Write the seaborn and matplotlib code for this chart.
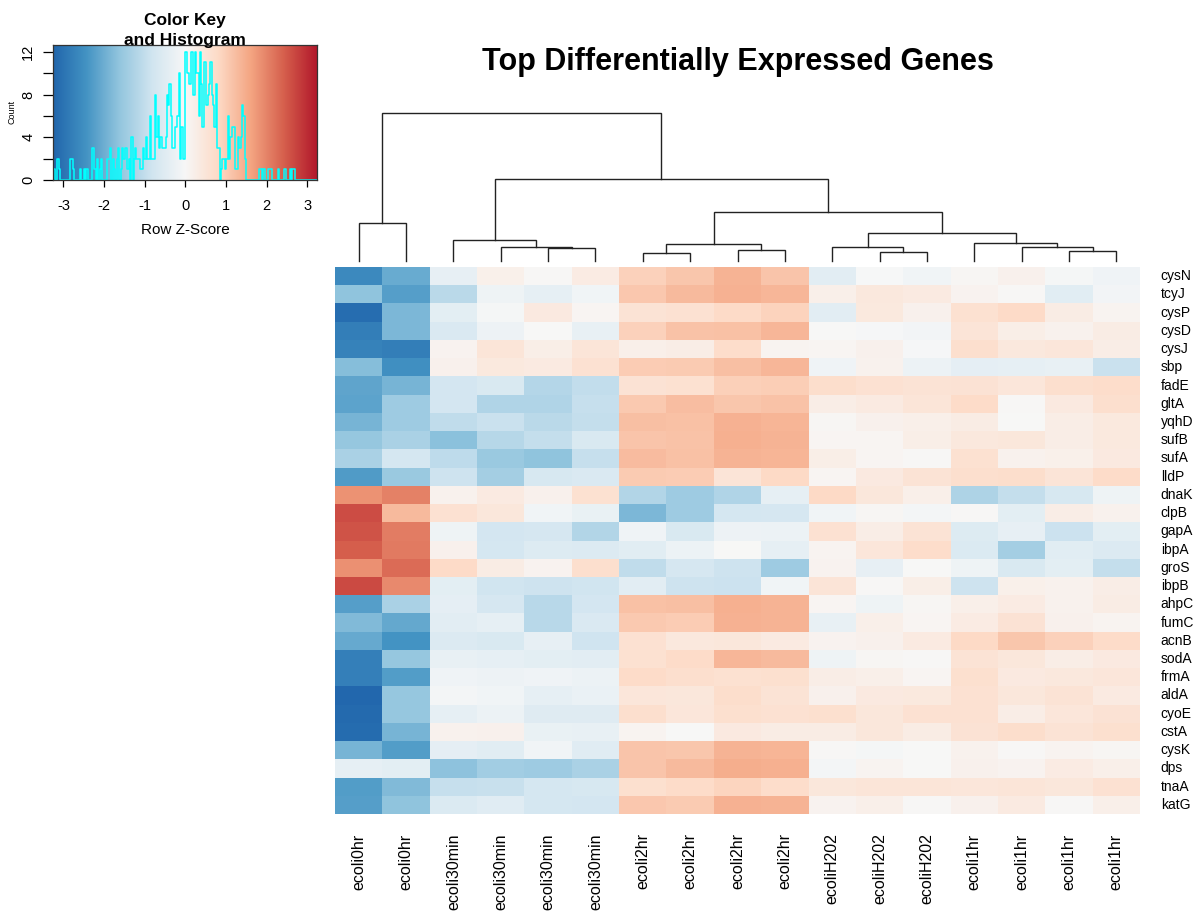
import numpy as np
import pandas as pd
import matplotlib
matplotlib.use("Agg")
import matplotlib.pyplot as plt
from matplotlib.colors import LinearSegmentedColormap
import seaborn as sns

plt.rcParams["font.family"] = ["Liberation Sans", "DejaVu Sans"]

# ---------------------------------------------------------------- data
genes = ["cysN", "tcyJ", "cysP", "cysD", "cysJ", "sbp", "fadE", "gltA", "yqhD",
         "sufB", "sufA", "lldP", "dnaK", "clpB", "gapA", "ibpA", "groS", "ibpB",
         "ahpC", "fumC", "acnB", "sodA", "frmA", "aldA", "cyoE", "cstA", "cysK",
         "dps", "tnaA", "katG"]

samples = ["ecoli0hr", "ecoli0hr",
           "ecoli30min", "ecoli30min", "ecoli30min", "ecoli30min",
           "ecoli2hr", "ecoli2hr", "ecoli2hr", "ecoli2hr",
           "ecoliH202", "ecoliH202", "ecoliH202",
           "ecoli1hr", "ecoli1hr", "ecoli1hr", "ecoli1hr"]

# row z-scores, one block per sample group (rows follow `genes`)
z_0hr = [
    [-2.60, -2.05], [-1.65, -2.25], [-3.10, -1.85], [-2.80, -1.84], [-2.74, -2.81],
    [-1.75, -2.50], [-2.15, -1.90], [-2.17, -1.45], [-1.88, -1.47], [-1.55, -1.30],
    [-1.30, -0.72], [-2.30, -1.50], [1.85, 2.05], [2.65, 1.30], [2.58, 2.10],
    [2.45, 2.13], [1.87, 2.30], [2.68, 1.95], [-2.25, -1.32], [-1.78, -2.10],
    [-2.08, -2.42], [-2.78, -1.57], [-2.77, -2.28], [-3.22, -1.55], [-3.15, -1.56],
    [-3.14, -1.88], [-1.89, -2.27], [-0.37, -0.43], [-2.28, -1.78], [-2.24, -1.65],
]
z_30min = [
    [-0.35, 0.21, 0.04, 0.34], [-1.10, -0.19, -0.38, -0.14], [-0.43, -0.07, 0.39, 0.09],
    [-0.61, -0.22, 0.02, -0.33], [0.14, 0.51, 0.27, 0.53], [0.19, 0.42, 0.38, 0.61],
    [-0.76, -0.66, -1.19, -1.01], [-0.74, -1.22, -1.24, -0.96], [-1.04, -0.89, -1.11, -0.98],
    [-1.69, -1.16, -0.99, -0.64], [-1.06, -1.51, -1.64, -0.94], [-0.86, -1.39, -0.67, -0.63],
    [0.16, 0.37, 0.18, 0.66], [0.63, 0.47, -0.13, -0.29], [-0.19, -0.74, -0.70, -1.21],
    [0.18, -0.73, -0.54, -0.57], [0.79, 0.32, 0.14, 0.69], [-0.42, -0.81, -0.84, -0.79],
    [-0.39, -0.71, -1.14, -0.74], [-0.44, -0.36, -1.13, -0.61], [-0.58, -0.64, -0.34, -0.83],
    [-0.31, -0.38, -0.42, -0.45], [-0.17, -0.21, -0.16, -0.23], [-0.09, -0.14, -0.36, -0.27],
    [-0.37, -0.24, -0.51, -0.53], [0.16, 0.18, -0.29, -0.31], [-0.40, -0.48, -0.14, -0.50],
    [-1.66, -1.41, -1.46, -1.31], [-0.96, -0.92, -0.73, -0.68], [-0.59, -0.49, -0.72, -0.75],
]
z_2hr = [
    [0.95, 1.12, 1.40, 1.16], [1.11, 1.32, 1.44, 1.36], [0.56, 0.61, 0.81, 0.93],
    [0.94, 1.17, 1.21, 1.37], [0.24, 0.29, 0.76, 0.11], [1.03, 1.05, 1.22, 1.35],
    [0.59, 0.66, 0.98, 1.01], [1.08, 1.25, 1.13, 1.18], [1.23, 1.21, 1.43, 1.39],
    [1.16, 1.19, 1.46, 1.42], [1.28, 1.20, 1.41, 1.38], [1.06, 1.04, 0.54, 0.82],
    [-1.20, -1.47, -1.22, -0.38], [-1.85, -1.46, -0.72, -0.71], [-0.16, -0.66, -0.21, -0.25],
    [-0.46, -0.23, 0.02, -0.37], [-1.03, -0.71, -0.86, -1.47], [-0.44, -0.85, -0.87, -0.15],
    [1.20, 1.22, 1.45, 1.40], [1.07, 1.04, 1.44, 1.41], [0.62, 0.45, 0.48, 0.36],
    [0.65, 0.78, 1.36, 1.31], [0.78, 0.71, 0.64, 0.67], [0.49, 0.47, 0.72, 0.56],
    [0.70, 0.50, 0.67, 0.61], [0.12, 0.02, 0.39, 0.31], [1.15, 1.14, 1.42, 1.39],
    [1.16, 1.30, 1.48, 1.47], [0.68, 0.77, 0.90, 0.75], [1.10, 1.06, 1.44, 1.40],
]
z_h2o2 = [
    [-0.44, -0.02, -0.13], [0.23, 0.44, 0.37], [-0.45, 0.42, 0.19],
    [0.00, -0.04, -0.12], [0.08, 0.20, -0.03], [-0.17, 0.16, -0.24],
    [0.72, 0.62, 0.57], [0.28, 0.36, 0.51], [0.06, 0.19, 0.24],
    [0.08, 0.10, 0.26], [0.27, 0.10, 0.03], [0.09, 0.39, 0.58],
    [0.82, 0.46, 0.23], [-0.15, 0.07, -0.09], [0.63, 0.29, 0.57],
    [0.11, 0.49, 0.75], [0.15, -0.34, 0.01], [0.55, 0.04, 0.27],
    [0.08, -0.18, 0.06], [-0.32, 0.24, 0.09], [0.15, 0.18, 0.38],
    [-0.20, 0.06, 0.03], [0.30, 0.23, 0.08], [0.20, 0.40, 0.42],
    [0.67, 0.48, 0.63], [0.33, 0.47, 0.32], [0.05, -0.07, 0.02],
    [-0.08, 0.12, 0.00], [0.47, 0.51, 0.53], [0.15, 0.23, 0.03],
]
z_1hr = [
    [0.07, 0.18, -0.06, -0.16], [0.15, 0.03, -0.47, -0.11], [0.64, 0.79, 0.33, 0.12],
    [0.55, 0.26, 0.17, 0.31], [0.70, 0.44, 0.50, 0.28], [-0.39, -0.36, -0.33, -0.90],
    [0.59, 0.49, 0.69, 0.74], [0.78, 0.05, 0.40, 0.71], [0.31, 0.01, 0.29, 0.41],
    [0.45, 0.48, 0.30, 0.42], [0.65, 0.17, 0.21, 0.39], [0.70, 0.73, 0.55, 0.78],
    [-1.25, -0.97, -0.67, -0.18], [0.04, -0.42, 0.28, 0.16], [-0.55, -0.35, -0.87, -0.43],
    [-0.59, -1.38, -0.48, -0.58], [-0.20, -0.65, -0.41, -0.97], [-0.85, 0.21, 0.17, 0.29],
    [0.25, 0.35, 0.16, 0.32], [0.34, 0.60, 0.20, 0.12], [0.82, 1.12, 0.95, 0.78],
    [0.58, 0.48, 0.30, 0.40], [0.68, 0.40, 0.45, 0.50], [0.61, 0.48, 0.58, 0.38],
    [0.63, 0.30, 0.50, 0.60], [0.60, 0.72, 0.58, 0.68], [0.17, 0.04, 0.11, 0.07],
    [0.20, 0.15, 0.35, 0.24], [0.50, 0.52, 0.48, 0.62], [0.20, 0.38, 0.04, 0.25],
]

# column dendrogram: (left node, right node, height); leaves are 0..16,
# merged nodes are numbered 17, 18, ... in the order listed
col_merges = [
    (6, 7, 0.24), (11, 12, 0.26), (15, 16, 0.30), (8, 9, 0.34),
    (4, 5, 0.38), (3, 21, 0.41), (10, 18, 0.43), (14, 19, 0.43),
    (17, 20, 0.50), (13, 24, 0.53), (2, 22, 0.63), (23, 26, 0.85),
    (0, 1, 1.15), (25, 28, 1.46), (27, 30, 2.45), (29, 31, 4.45),
]

key_limit = 3.25          # symmetric colour-key range
n_hist_bins = 200
brewer_rdbu = ["#2166AC", "#4393C3", "#92C5DE", "#D1E5F0", "#F7F7F7",
               "#FDDBC7", "#F4A582", "#D6604D", "#B2182B"]

# ---------------------------------------------------------------- build
mat = np.hstack([np.array(z_0hr), np.array(z_30min), np.array(z_2hr),
                 np.array(z_h2o2), np.array(z_1hr)])
df = pd.DataFrame(mat, index=genes)
cmap = LinearSegmentedColormap.from_list("rdbu9", brewer_rdbu, N=256)

W, H = 1200, 911
fig = plt.figure(figsize=(W / 100, H / 100), dpi=100)
fig.patch.set_facecolor("white")


def fx(px):
    return px / W


def fy(py):
    return 1 - py / H


# heatmap
hm_left, hm_right, hm_top, hm_bottom = 335, 1140, 267, 814
ax = fig.add_axes([fx(hm_left), fy(hm_bottom), (hm_right - hm_left) / W,
                   (hm_bottom - hm_top) / H])
sns.heatmap(df.values, ax=ax, cmap=cmap, vmin=-key_limit, vmax=key_limit,
            cbar=False, xticklabels=samples, yticklabels=genes, linewidths=0)
ax.yaxis.tick_right()
ax.tick_params(axis="y", length=0, pad=15, labelsize=10, labelrotation=0,
               labelright=True, labelleft=False)
ax.tick_params(axis="x", length=0, pad=14, labelsize=11.5, labelrotation=90)
for lbl in ax.get_xticklabels():
    lbl.set_va("top")
    lbl.set_ha("center")
for lbl in ax.get_yticklabels():
    lbl.set_ha("left")
    lbl.set_va("center")

# column dendrogram
n_leaves = mat.shape[1]
node_x = {i: i + 0.5 for i in range(n_leaves)}
node_h = {i: 0.0 for i in range(n_leaves)}
dax = fig.add_axes([fx(hm_left), fy(261), (hm_right - hm_left) / W,
                    (261 - 112.7) / H])
for k, (a, b, h) in enumerate(col_merges):
    node = n_leaves + k
    xa, xb = node_x[a], node_x[b]
    dax.plot([xa, xa, xb, xb], [node_h[a], h, h, node_h[b]], color="#222222",
             lw=1.0, clip_on=False, solid_joinstyle="miter")
    node_x[node] = (xa + xb) / 2
    node_h[node] = h
dax.set_xlim(0, n_leaves)
dax.set_ylim(0, max(m[2] for m in col_merges))
dax.axis("off")

# colour key with histogram
kx = fig.add_axes([fx(53.3), fy(180), 264 / W, 135 / H])
counts, edges = np.histogram(mat.ravel(), bins=np.linspace(-key_limit, key_limit,
                                                           n_hist_bins + 1))
cmax = counts.max()
ytop = cmax / 0.95
grad = np.linspace(-key_limit, key_limit, 512)[None, :]
kx.imshow(grad, cmap=cmap, vmin=-key_limit, vmax=key_limit, aspect="auto",
          extent=[-key_limit, key_limit, 0, ytop], origin="lower",
          interpolation="bilinear")
kx.step(edges, np.append(counts, counts[-1]), where="post", color="cyan", lw=1.1)
kx.set_xlim(-key_limit, key_limit)
kx.set_ylim(0, ytop)
kx.set_xticks(np.arange(-3, 4))
kx.set_xticklabels([str(v) for v in range(-3, 4)])
step = 2 if cmax <= 18 else 5
yt = np.arange(0, cmax + 1, step)
kx.set_yticks(yt)
kx.set_yticklabels([str(v) if (i % 2 == 0) else "" for i, v in enumerate(yt)])
kx.tick_params(axis="x", length=5, width=0.9, pad=9, labelsize=10.5, direction="out")
kx.tick_params(axis="y", length=7, width=0.9, pad=6, labelsize=10.5, direction="out",
               labelrotation=90)
for lbl in kx.get_yticklabels():
    lbl.set_va("center")
for s in kx.spines.values():
    s.set_color("#333333")
    s.set_linewidth(0.9)

fig.text(fx(185), fy(25), "Color Key", ha="center", va="baseline",
         fontsize=12.5, fontweight="bold")
fig.text(fx(185), fy(45.5), "and Histogram", ha="center", va="baseline",
         fontsize=12.5, fontweight="bold")
fig.text(fx(185), fy(230), "Row Z-Score", ha="center", va="center", fontsize=11)
fig.text(fx(12), fy(112), "Count", ha="center", va="center", fontsize=6.5,
         rotation=90)

# title
fig.text(fx(738), fy(70), "Top Differentially Expressed Genes", ha="center",
         va="baseline", fontsize=22, fontweight="bold")

fig.savefig("out.png", dpi=100, facecolor="white")
